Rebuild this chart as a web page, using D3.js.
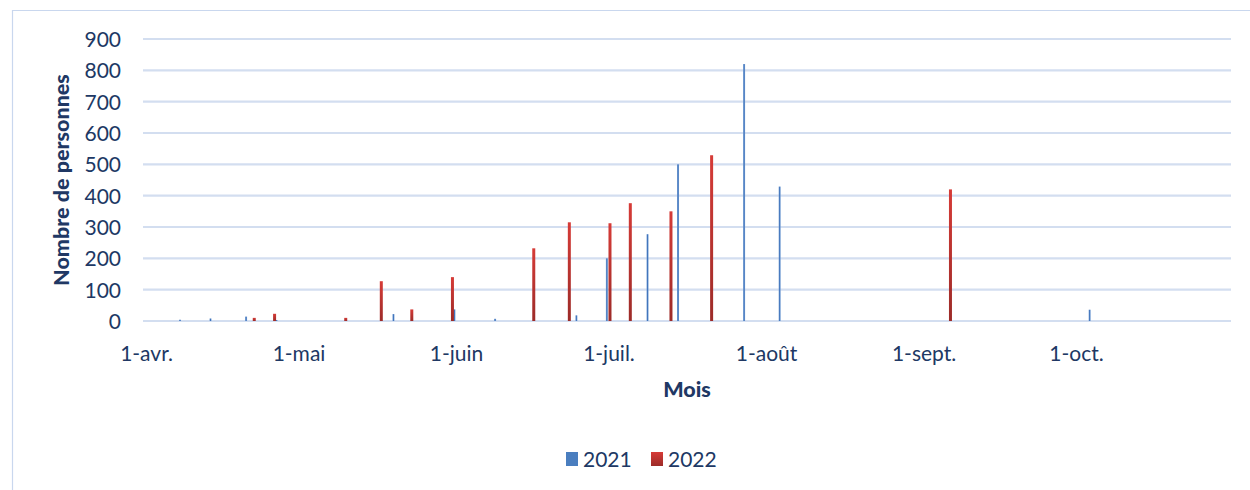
<!DOCTYPE html>
<html><head><meta charset="utf-8">
<script src="https://cdn.jsdelivr.net/npm/d3@7"></script>
<style>body{margin:0;background:#fff;} text{font-family:Lato,"Open Sans",sans-serif;}</style>
</head><body><svg id="c" width="1250" height="490"></svg>
<script>
// Data (day-month, common year)
const dates2021 = ["04-08","04-14","04-21","04-27","05-20","06-01","06-09","06-25","07-01","07-09","07-15","07-28","08-04","10-04"];
const values2021 = [4,8,14,3,22,37,7,18,200,277,500,820,429,36];
const dates2022 = ["04-22","04-26","05-10","05-17","05-23","05-31","06-16","06-23","07-01","07-05","07-13","07-21","09-06"];
const values2022 = [10,23,10,127,37,140,232,315,312,376,350,529,420];
const seriesNames = ["2021","2022"];
const monthTicks = ["04-01","05-01","06-01","07-01","08-01","09-01","10-01"];
const monthLabels = ["1-avr.","1-mai","1-juin","1-juil.","1-août","1-sept.","1-oct."];
const yTicks = [0,100,200,300,400,500,600,700,800,900];

const parse = s => new Date(Date.UTC(2021, +s.slice(0,2)-1, +s.slice(3,5)));
const svg = d3.select("#c");
const textCol = "#203864";

// frame
svg.append("path").attr("d","M12.5,490 L12.5,10.5 L1250,10.5").attr("fill","none").attr("stroke","#c9d7ee").attr("stroke-width",1.2);

const x = d3.scaleUtc()
  .domain([new Date(Date.UTC(2021,2,31,12)), new Date(Date.UTC(2021,9,31,12))])
  .range([143.5, 1231]);
const y = d3.scaleLinear().domain([0,900]).range([321,39]);

// gridlines
svg.append("g").selectAll("line").data(yTicks).join("line")
  .attr("x1",143).attr("x2",1231).attr("y1",d=>y(d)).attr("y2",d=>y(d))
  .attr("stroke","#d3def0").attr("stroke-width",2.2);

// y axis labels
const yAxis = d3.axisLeft(y).tickValues(yTicks).tickSize(0).tickPadding(0);
const gy = svg.append("g").attr("transform","translate(121,0)").call(yAxis);
gy.select(".domain").remove();
gy.selectAll("text").attr("font-size",21).attr("fill",textCol).attr("font-family","Lato").attr("dy","0.35em");

// x axis labels
const xAxis = d3.axisBottom(x).tickValues(monthTicks.map(parse)).tickFormat((d,i)=>monthLabels[i]).tickSize(0).tickPadding(0);
const gx = svg.append("g").attr("transform","translate(0,346)").call(xAxis);
gx.select(".domain").remove();
gx.selectAll("text").attr("font-size",21).attr("fill",textCol).attr("font-family","Lato").attr("dy","0.71em");

// gradients
const defs = svg.append("defs");
const gr = defs.append("linearGradient").attr("id","gr").attr("x1",0).attr("x2",0).attr("y1",0).attr("y2",1);
gr.append("stop").attr("offset","0%").attr("stop-color","#d63b37");
gr.append("stop").attr("offset","100%").attr("stop-color","#9c2b28");
const gb = defs.append("linearGradient").attr("id","gb").attr("x1",0).attr("x2",1);
gb.append("stop").attr("offset","0%").attr("stop-color","#7aa2d6");
gb.append("stop").attr("offset","50%").attr("stop-color","#3f73bb");
gb.append("stop").attr("offset","100%").attr("stop-color","#7aa2d6");

const d21 = dates2021.map((d,i)=>({date:parse(d), v:values2021[i]}));
const d22 = dates2022.map((d,i)=>({date:parse(d), v:values2022[i]}));

svg.append("g").selectAll("rect").data(d21).join("rect")
  .attr("x",d=>x(d.date)-2.6).attr("width",2).attr("y",d=>y(d.v)).attr("height",d=>y(0)-y(d.v))
  .attr("fill","url(#gb)");
svg.append("g").selectAll("rect").data(d22).join("rect")
  .attr("x",d=>x(d.date)).attr("width",3).attr("y",d=>y(d.v)).attr("height",d=>y(0)-y(d.v))
  .attr("fill","url(#gr)");

// titles
svg.append("text").attr("transform","translate(69,180) rotate(-90)").attr("text-anchor","middle")
  .attr("font-size",21.5).attr("font-weight","900").attr("fill",textCol).text("Nombre de personnes");
svg.append("text").attr("x",687).attr("y",397).attr("text-anchor","middle")
  .attr("font-size",21.5).attr("font-weight","900").attr("fill",textCol).text("Mois");

// legend
const leg = svg.append("g");
const legX = [566, 651];
const legFill = ["#4a7ebf","url(#gr)"];
seriesNames.forEach((n,i)=>{
  leg.append("rect").attr("x",legX[i]).attr("y",452).attr("width",12).attr("height",14).attr("fill",legFill[i]);
  leg.append("text").attr("x",legX[i]+17).attr("y",467).attr("font-size",21).attr("fill",textCol).text(n);
});
</script></body></html>
